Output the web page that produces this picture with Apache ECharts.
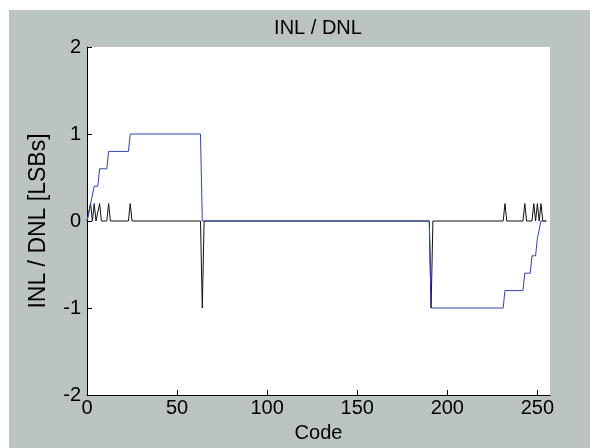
<!DOCTYPE html>
<html>
<head>
<meta charset="utf-8">
<script src="https://cdn.jsdelivr.net/npm/echarts@6/dist/echarts.min.js"></script>
<style>
  html, body { margin: 0; padding: 0; background: #ffffff; }
  #chart { position: absolute; left: 9px; top: 10px; width: 581px; height: 438px; }
</style>
</head>
<body>
<div id="chart"></div>
<script>
// ---- data ----
var titleText = 'INL / DNL';
var xName = 'Code';
var yName = 'INL / DNL [LSBs]';
var xTicks = [0, 50, 100, 150, 200, 250];
var yTicks = [-2, -1, 0, 1, 2];

// INL (blue) vertices
var inlCodes  = [0, 1, 2, 3, 4, 6, 7, 11, 12, 23, 24, 63, 64, 190, 191, 231, 232, 242, 243, 246, 247, 249, 250, 251, 252, 255];
var inlValues = [0, 0, 0.2, 0.2, 0.4, 0.4, 0.6, 0.6, 0.8, 0.8, 1, 1, 0, 0, -1, -1, -0.8, -0.8, -0.6, -0.6, -0.4, -0.4, -0.2, -0.2, 0, 0];

// DNL (black) vertices
var dnlCodes  = [0, 1, 2, 3, 4, 5, 6, 7, 8, 11, 12, 13, 23, 24, 25, 63, 64, 65, 190, 191, 192, 231, 232, 233, 242, 243, 244, 247, 248, 249, 250, 251, 252, 253, 255];
var dnlValues = [0, 0, 0.2, 0, 0.2, 0, 0, 0.2, 0, 0, 0.2, 0, 0, 0.2, 0, 0, -1, 0, 0, -1, 0, 0, 0.2, 0, 0, 0.2, 0, 0, 0.2, 0, 0.2, 0, 0.2, 0, 0];

function pairs(xs, ys) {
  var out = [];
  for (var i = 0; i < xs.length; i++) out.push([xs[i], ys[i]]);
  return out;
}

var FONT = 'Liberation Sans, Arial, Helvetica, sans-serif';
var NARROW = '"Liberation Sans Narrow", "Liberation Sans", Arial, sans-serif';
var chart = echarts.init(document.getElementById('chart'));
chart.setOption({
  backgroundColor: '#bbc4c0',
  animation: false,
  title: {
    text: titleText,
    left: 304,
    top: 3,
    textAlign: 'center',
    textStyle: { fontFamily: FONT, fontSize: 20, fontWeight: 'normal', color: '#000' }
  },
  grid: {
    left: 78, right: 40, top: 37, bottom: 44.5,
    show: true, backgroundColor: '#ffffff', borderWidth: 0
  },
  xAxis: {
    type: 'value', min: 0, max: 257, interval: 50,
    name: xName, nameLocation: 'middle', nameGap: 28,
    nameTextStyle: { fontFamily: FONT, fontSize: 20, color: '#000' },
    axisLine: { show: true, onZero: false, lineStyle: { color: '#000', width: 1 } },
    axisTick: { show: true, inside: true, length: 5, lineStyle: { color: '#000' } },
    axisLabel: {
      fontFamily: NARROW, fontSize: 20, color: '#000', margin: 3
    },
    splitLine: { show: false }
  },
  yAxis: {
    type: 'value', min: -2, max: 2, interval: 1,
    name: yName, nameLocation: 'middle', nameGap: 37,
    nameTextStyle: { fontFamily: FONT, fontSize: 23, color: '#000' },
    axisLine: { show: true, onZero: false, lineStyle: { color: '#000', width: 1 } },
    axisTick: { show: true, inside: true, length: 5, lineStyle: { color: '#000' } },
    axisLabel: { fontFamily: NARROW, fontSize: 20, color: '#000', margin: 6 },
    splitLine: { show: false }
  },
  series: [
    {
      name: 'DNL', type: 'line', data: pairs(dnlCodes, dnlValues),
      symbol: 'none', z: 2,
      lineStyle: { color: '#111111', width: 1 }
    },
    {
      name: 'INL', type: 'line', data: pairs(inlCodes, inlValues),
      symbol: 'none', z: 3,
      lineStyle: { color: '#3342aa', width: 1 }
    }
  ]
});
</script>
</body>
</html>
